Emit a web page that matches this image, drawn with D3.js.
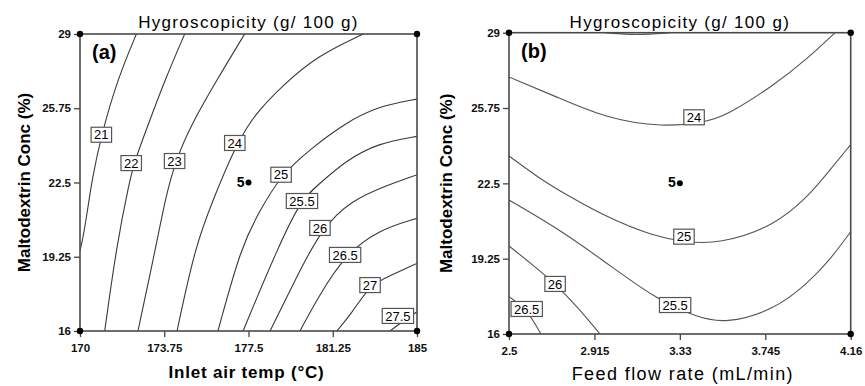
<!DOCTYPE html>
<html>
<head>
<meta charset="utf-8">
<script src="https://cdn.jsdelivr.net/npm/d3@7"></script>
<style>
  body { margin: 0; background: #fff; }
  svg { display: block; font-family: "Liberation Sans", Arial, sans-serif; }
</style>
</head>
<body>
<div id="chart"></div>
<script>
// ---- data ----
const yTicks = [16, 19.25, 22.5, 25.75, 29];
const xTicksA = [170, 173.75, 177.5, 181.25, 185];
const xTicksB = [2.5, 2.915, 3.33, 3.745, 4.16];

// (a) Inlet air temp vs Maltodextrin
const levelsA = ["21", "22", "23", "24", "25", "25.5", "26", "26.5", "27", "27.5"];
const linesA = [
  [[172.51, 29], [171.69, 27.07], [170.95, 24.59], [170.53, 22.61], [170.32, 21.16], [170.04, 19.55], [169.9, 19.3]],
  [[174.66, 29], [173.78, 26.99], [173.03, 25.02], [172.45, 23.48], [172.21, 22.61], [171.62, 19.69], [171.10, 16]],
  [[177.33, 29], [176.14, 27.07], [174.94, 25.02], [174.27, 23.48], [173.83, 21.95], [173.38, 19.69], [172.58, 16]],
  [[182.60, 29], [180.55, 28.04], [178.99, 26.72], [177.97, 25.67], [177.43, 24.93], [176.81, 23.84], [175.92, 21.74], [175.12, 19.68], [174.32, 16]],
  [[185, 26.15], [183.28, 25.84], [181.80, 25.10], [180.31, 24.01], [178.95, 22.84], [177.97, 21.21], [177.17, 19.69], [176.14, 16]],
  [[185, 24.52], [183.28, 24.23], [181.80, 23.44], [180.61, 22.40], [179.79, 21.70], [178.68, 19.33], [177.83, 17.36], [177.26, 16]],
  [[185, 22.84], [183.71, 22.40], [182.09, 21.73], [180.76, 20.50], [179.57, 18.23], [178.46, 16]],
  [[185, 20.93], [183.28, 20.42], [181.80, 19.33], [180.61, 17.50], [179.79, 16]],
  [[185, 18.96], [183.72, 18.38], [182.91, 18.01], [182.09, 16.77], [181.43, 16]],
  [[185, 16.84], [184.4, 16.45], [183.80, 16]]
];
const labelAtA = [
  [170.95, 24.59], [172.28, 23.35], [174.21, 23.44], [176.89, 24.23], [178.95, 22.84],
  [179.88, 21.69], [180.68, 20.51], [181.80, 19.33], [182.91, 18.01], [184.15, 16.66]
];

// (b) Feed flow rate vs Maltodextrin
const levelsB = ["23.5", "24", "25", "25.5", "26", "26.5"];
const linesB = [
  [[2.966, 29], [3.12, 28.88], [3.282, 29]],
  [[2.5, 27.09], [2.724, 26.26], [2.966, 25.32], [3.25, 24.91], [3.452, 25.15], [3.550, 25.39], [3.792, 26.76], [3.954, 27.91], [4.084, 29]],
  [[2.5, 23.68], [2.659, 22.65], [2.724, 22.30], [2.966, 21.06], [3.209, 20.20], [3.355, 19.97], [3.517, 19.88], [3.792, 20.66], [3.954, 21.96], [4.02, 22.65], [4.16, 24.17]],
  [[2.5, 21.78], [2.724, 20.63], [2.966, 19.12], [3.209, 17.54], [3.404, 16.75], [3.550, 16.43], [3.792, 17.05], [3.954, 18.22], [4.052, 19.12], [4.16, 20.41]],
  [[2.5, 19.80], [2.62, 18.95], [2.724, 18.16], [2.83, 17.2], [2.942, 16]],
  [[2.5, 17.61], [2.586, 17.08], [2.655, 16]]
];
const labelAtB = [null, [3.399, 25.35], [3.350, 20.20], [3.307, 17.25], [2.724, 18.16], [2.586, 17.08]];

const centerA = [177.5, 22.5];
const centerB = [3.33, 22.5];
const centerRuns = "5";

// ---- drawing ----
const W = 865, H = 386;
const svg = d3.select("#chart").append("svg").attr("width", W).attr("height", H);

function panel(opt) {
  const x = d3.scaleLinear().domain(opt.xDomain).range([opt.left, opt.right]);
  const y = d3.scaleLinear().domain([16, 29]).range([opt.bottom, opt.top]);
  const g = svg.append("g");

  g.append("clipPath").attr("id", opt.id + "-clip")
    .append("rect")
    .attr("x", opt.left).attr("y", opt.top)
    .attr("width", opt.right - opt.left).attr("height", opt.bottom - opt.top);

  // contours
  const line = d3.line().x(d => x(d[0])).y(d => y(d[1])).curve(d3.curveBasis);
  g.append("g").attr("clip-path", `url(#${opt.id}-clip)`)
    .selectAll("path")
    .data(opt.lines)
    .enter()
    .append("path")
    .attr("d", line)
    .attr("fill", "none")
    .attr("stroke", opt.lineColor)
    .attr("stroke-width", 1.1);

  // axes
  const xAxis = d3.axisBottom(x).tickValues(opt.xTicks).tickFormat(d => String(d)).tickSize(6).tickPadding(7);
  const yAxis = d3.axisLeft(y).tickValues(yTicks).tickFormat(d => String(d)).tickSize(6).tickPadding(3);
  const gx = g.append("g").attr("transform", `translate(0,${opt.bottom})`).call(xAxis);
  const gy = g.append("g").attr("transform", `translate(${opt.left},0)`).call(yAxis);
  [gx, gy].forEach(a => {
    a.select(".domain").remove();
    a.selectAll("line").attr("stroke", "#444").attr("stroke-width", 1.3);
    a.selectAll("text").attr("fill", "#111").style("font-size", "11.5px").style("font-weight", "bold");
  });

  // frame
  g.append("rect")
    .attr("x", opt.left).attr("y", opt.top)
    .attr("width", opt.right - opt.left).attr("height", opt.bottom - opt.top)
    .attr("fill", "none").attr("stroke", "#4a4a4a").attr("stroke-width", 1.6);

  // corner dots
  const corners = [[opt.xDomain[0], 16], [opt.xDomain[1], 16], [opt.xDomain[0], 29], [opt.xDomain[1], 29]];
  g.selectAll(".corner").data(corners).enter().append("circle")
    .attr("cx", d => x(d[0])).attr("cy", d => y(d[1])).attr("r", 3.2).attr("fill", "#000");

  // contour labels
  opt.levels.forEach((lv, i) => {
    const at = opt.labelAt[i];
    if (!at) return;
    const lg = g.append("g").attr("transform", `translate(${x(at[0])},${y(at[1])})`);
    const t = lg.append("text").text(lv)
      .attr("text-anchor", "middle").attr("dy", "0.36em")
      .style("font-size", "13px").attr("fill", "#000");
    const w = t.node().getComputedTextLength() + 6;
    lg.insert("rect", "text")
      .attr("x", -w / 2).attr("y", -7.5).attr("width", w).attr("height", 15)
      .attr("fill", "#fff").attr("stroke", "#555").attr("stroke-width", 1.2);
  });

  // design centre
  g.append("circle").attr("cx", x(opt.center[0])).attr("cy", y(opt.center[1])).attr("r", 3).attr("fill", "#000");
  g.append("text").text(centerRuns)
    .attr("x", x(opt.center[0]) - 4).attr("y", y(opt.center[1]) + 4)
    .attr("text-anchor", "end").style("font-size", "14px").style("font-weight", "bold");

  // panel tag
  g.append("text").text(opt.tag)
    .attr("x", opt.left + 12).attr("y", opt.top + 25)
    .style("font-size", "20px").style("font-weight", "bold");

  // title
  g.append("text").text("Hygroscopicity (g/ 100 g)")
    .attr("x", (opt.left + opt.right) / 2).attr("y", 28)
    .attr("text-anchor", "middle").style("font-size", "17px").style("letter-spacing", "1.3px");

  // axis titles
  g.append("text").text(opt.xLabel)
    .attr("x", (opt.left + opt.right) / 2 + opt.xLabelShift).attr("y", opt.xLabelY)
    .attr("text-anchor", "middle").style("font-size", opt.xLabelSize)
    .style("letter-spacing", opt.xLabelSpacing).style("font-weight", opt.xLabelWeight);
  g.append("text").text("Maltodextrin Conc (%)")
    .attr("transform", `translate(${opt.yLabelX},${(opt.top + opt.bottom) / 2}) rotate(-90)`)
    .attr("text-anchor", "middle").style("font-size", "17px").style("font-weight", "bold");
}

panel({
  id: "a", tag: "(a)", left: 80, right: 417, top: 34, bottom: 331,
  xDomain: [170, 185], xTicks: xTicksA, lines: linesA, levels: levelsA, labelAt: labelAtA,
  center: centerA, lineColor: "#3a3a3a",
  xLabel: "Inlet air temp (°C)", xLabelShift: -2, xLabelY: 378, xLabelSize: "17px",
  xLabelSpacing: "0.8px", xLabelWeight: "bold", yLabelX: 30
});
panel({
  id: "b", tag: "(b)", left: 509, right: 850.7, top: 32.7, bottom: 334,
  xDomain: [2.5, 4.16], xTicks: xTicksB, lines: linesB, levels: levelsB, labelAt: labelAtB,
  center: centerB, lineColor: "#555",
  xLabel: "Feed flow rate (mL/min)", xLabelShift: 3, xLabelY: 380, xLabelSize: "18px",
  xLabelSpacing: "1.4px", xLabelWeight: "normal", yLabelX: 452
});
</script>
</body>
</html>
